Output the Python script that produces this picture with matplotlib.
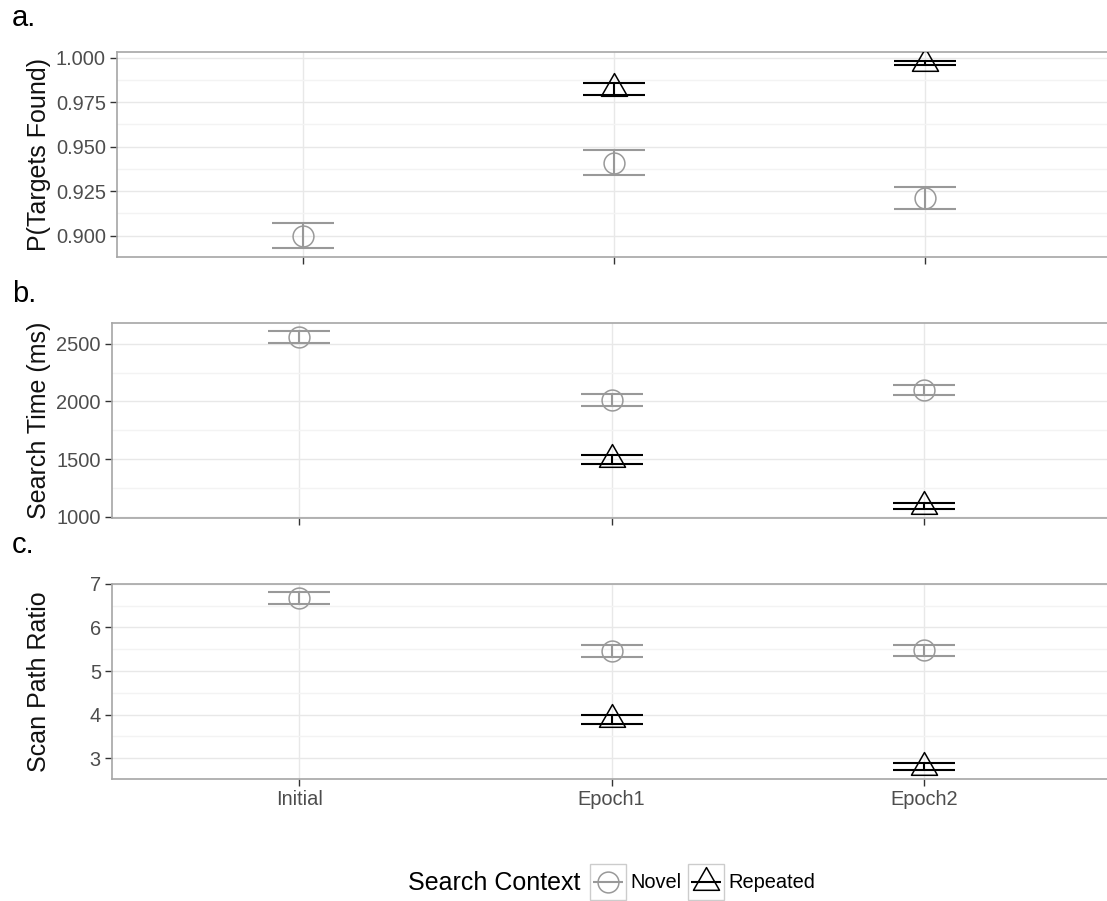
import matplotlib
matplotlib.use("Agg")
import matplotlib.pyplot as plt
from matplotlib.lines import Line2D
from matplotlib.path import Path
from matplotlib.ticker import MultipleLocator, FormatStrFormatter
import numpy as np

plt.rcParams['font.family'] = ['Liberation Sans', 'DejaVu Sans']

cats = ['Initial', 'Epoch1', 'Epoch2']
nan = np.nan

# a. proportion of targets found
novel_found = [0.900, 0.941, 0.921]
novel_found_lo = [0.893, 0.934, 0.915]
novel_found_hi = [0.907, 0.948, 0.9275]
rep_found = [nan, 0.983, 0.997]
rep_found_lo = [nan, 0.979, 0.996]
rep_found_hi = [nan, 0.986, 0.998]

# b. search time (ms)
novel_time = [2558, 2013, 2098]
novel_time_lo = [2509, 1963, 2052]
novel_time_hi = [2607, 2063, 2144]
rep_time = [nan, 1497, 1092]
rep_time_lo = [nan, 1459, 1064]
rep_time_hi = [nan, 1535, 1121]

# c. scan path ratio
novel_ratio = [6.665, 5.46, 5.47]
novel_ratio_lo = [6.528, 5.321, 5.351]
novel_ratio_hi = [6.803, 5.596, 5.596]
rep_ratio = [nan, 3.89, 2.805]
rep_ratio_lo = [nan, 3.793, 2.725]
rep_ratio_hi = [nan, 3.992, 2.886]

novel_col = '#999999'
rep_col = '#000000'

# R style open triangle: centred lower than its box, like pch 2
tri = Path([(0, 1), (-0.872, -0.523), (0.872, -0.523), (0, 1)],
           [Path.MOVETO, Path.LINETO, Path.LINETO, Path.CLOSEPOLY])
TRI_MS = 21.5
CIRC_MS = 15

W, H = 1107, 901
fig = plt.figure(figsize=(W / 100, H / 100), dpi=100)


def px_axes(left, top, bottom, right=1111):
    return fig.add_axes([left / W, 1 - bottom / H, (right - left) / W, (bottom - top) / H])


ax_a = px_axes(117, 52.3, 256.7)
ax_b = px_axes(112, 323.3, 517.7)
ax_c = px_axes(112, 583.7, 778.7)

x = np.arange(1, len(cats) + 1)


def draw_series(ax, m, lo, hi, col, marker, ms):
    m = np.array(m, float)
    lo = np.array(lo, float)
    hi = np.array(hi, float)
    ax.errorbar(x, m, yerr=[m - lo, hi - m], fmt='none', ecolor=col,
                elinewidth=1.5, capsize=22, capthick=1.5, zorder=3)
    ax.plot(x, m, linestyle='none', marker=marker, ms=ms, mfc='none',
            mec=col, mew=1.1, zorder=4)


def style(ax, ylim, major, ylabel, show_x):
    ax.set_xlim(0.4, 3.6)
    ax.set_ylim(*ylim)
    ax.yaxis.set_major_locator(MultipleLocator(major))
    ax.yaxis.set_minor_locator(MultipleLocator(major / 2))
    ax.set_xticks(x)
    ax.set_xticklabels(cats if show_x else [])
    ax.grid(True, which='major', color='#e8e8e8', lw=1.0, zorder=0)
    ax.grid(True, which='minor', axis='y', color='#f3f3f3', lw=1.0, zorder=0)
    ax.set_axisbelow(True)
    ax.tick_params(axis='both', which='major', length=5, width=1, color='#333333',
                   labelsize=14.4, labelcolor='#4d4d4d', direction='out')
    ax.tick_params(axis='y', which='major', pad=3)
    ax.tick_params(axis='x', which='major', pad=3)
    ax.tick_params(axis='y', which='minor', length=0)
    for s in ax.spines.values():
        s.set_color('#a6a6a6')
        s.set_linewidth(1.2)
    ax.set_ylabel(ylabel, fontsize=18, color='#111111')
    bb = ax.get_position()
    ax.yaxis.set_label_coords((51 / W - bb.x0) / bb.width, 0.5)


draw_series(ax_a, novel_found, novel_found_lo, novel_found_hi, novel_col, 'o', CIRC_MS)
draw_series(ax_a, rep_found, rep_found_lo, rep_found_hi, rep_col, tri, TRI_MS)
style(ax_a, (0.8882, 1.003), 0.025, 'P(Targets Found)', False)
ax_a.yaxis.set_major_formatter(FormatStrFormatter('%.3f'))

draw_series(ax_b, novel_time, novel_time_lo, novel_time_hi, novel_col, 'o', CIRC_MS)
draw_series(ax_b, rep_time, rep_time_lo, rep_time_hi, rep_col, tri, TRI_MS)
style(ax_b, (991, 2677), 500, 'Search Time (ms)', False)

draw_series(ax_c, novel_ratio, novel_ratio_lo, novel_ratio_hi, novel_col, 'o', CIRC_MS)
draw_series(ax_c, rep_ratio, rep_ratio_lo, rep_ratio_hi, rep_col, tri, TRI_MS)
style(ax_c, (2.533, 7.0), 1, 'Scan Path Ratio', True)

# panel letters
for lab, ybase in [('a.', 26), ('b.', 302), ('c.', 553)]:
    fig.text(12 / W, 1 - ybase / H, lab, fontsize=21, va='baseline', ha='left')

# legend
fig.text(408 / W, 1 - 883 / H, 'Search Context', fontsize=18, va='center', ha='left')
box = dict(marker='s', ms=26.5, mfc='none', mec='#cccccc', mew=1.0, ls='none')
h_novel = (Line2D([], [], **box),
           Line2D([], [], marker='_', ms=21, mew=1.5, color=novel_col, ls='none'),
           Line2D([], [], marker='o', ms=CIRC_MS, mfc='none', mec=novel_col, mew=1.1, ls='none'))
h_rep = (Line2D([], [], **box),
         Line2D([], [], marker='_', ms=21, mew=1.5, color=rep_col, ls='none'),
         Line2D([], [], marker=tri, ms=TRI_MS, mfc='none', mec=rep_col, mew=1.1, ls='none'))
fig.legend([h_novel, h_rep], ['Novel', 'Repeated'], loc='center left',
           bbox_to_anchor=(589 / W, 1 - 883 / H), ncol=2, frameon=False,
           fontsize=14.4, handlelength=1.85, handletextpad=0.2, columnspacing=0.3,
           borderpad=0, borderaxespad=0)

fig.savefig('out.png', dpi=100)
